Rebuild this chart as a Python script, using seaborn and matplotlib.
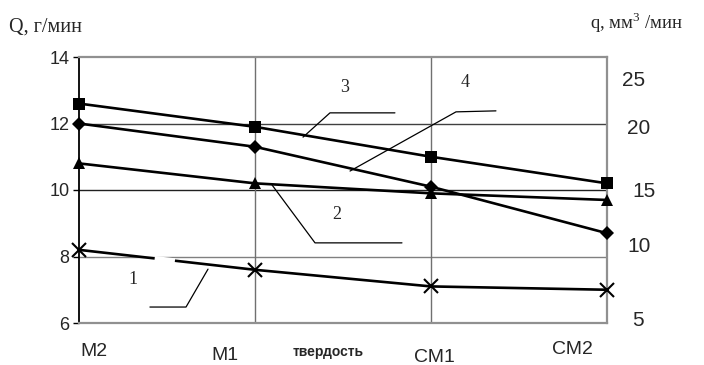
import matplotlib
matplotlib.use("Agg")
import matplotlib.pyplot as plt
import seaborn as sns
import pandas as pd

categories = ["M2", "M1", "СМ1", "СМ2"]
s1 = [8.2, 7.6, 7.1, 7.0]
s2 = [10.8, 10.2, 9.9, 9.7]
s3 = [12.6, 11.9, 11.0, 10.2]
s4 = [12.0, 11.3, 10.1, 8.7]
left_ticks = [6, 8, 10, 12, 14]
right_labels = ["25", "20", "15", "10", "5"]

sns.set_theme(style="white")
plt.rcParams['font.family'] = ['Liberation Sans', 'DejaVu Sans']
plt.rcParams['mathtext.fontset'] = 'custom'
plt.rcParams['mathtext.rm'] = 'Liberation Serif'

W, H = 704, 365
fig = plt.figure(figsize=(7.04, 3.65), dpi=100)
ax = fig.add_axes([79/W, 1-323/H, 528/W, 266/H])

x = list(range(len(categories)))
series = [(s1, "x", 10, 1.5), (s2, "^", 8.5, 0), (s3, "s", 8.5, 0), (s4, "D", 7, 0)]
for vals, m, ms, mew in series:
    df = pd.DataFrame({"x": x, "y": vals})
    sns.lineplot(data=df, x="x", y="y", ax=ax, color="black", lw=1.9,
                 marker=m, markersize=ms, markeredgewidth=mew,
                 markerfacecolor="black", markeredgecolor="black", clip_on=False, zorder=5)

# small white gap in curve 1 (as in the reference)
gx0, gx1 = 0.43, 0.545
ax.plot([gx0, gx1], [s1[0] + (s1[1]-s1[0])*gx0, s1[0] + (s1[1]-s1[0])*gx1],
        color="white", lw=3.5, zorder=6, solid_capstyle="butt")

ax.set_xlim(0, 3)
ax.set_ylim(6, 14)
ax.set_yticks(left_ticks)
ax.set_yticklabels([str(t) for t in left_ticks], fontsize=13)
ax.set_xticks([])
ax.set_xlabel("")
ax.set_ylabel("")
ax.tick_params(axis="y", direction="out", length=4, width=1, color="black", pad=3, left=True)

for yv, c in [(8, "#808080"), (10, "#202020"), (12, "#404040")]:
    ax.axhline(yv, color=c, lw=1, zorder=1)
for xv in [1, 2]:
    ax.axvline(xv, color="#707070", lw=1, zorder=1)
for side in ["top", "bottom", "right"]:
    ax.spines[side].set_color("#909090")
    ax.spines[side].set_linewidth(1.6)
ax.spines["left"].set_color("black")
ax.spines["left"].set_linewidth(1.3)

# right-hand q scale labels
right_pos = [(622, 81), (627, 128), (632, 192), (627, 247), (632, 320)]
for lab, (px, py) in zip(right_labels, right_pos):
    fig.text(px/W, 1-py/H, lab, fontsize=15, ha="left", va="center")

# category labels
cat_pos = [(94, 352), (225, 356), (434, 357), (572, 349)]
for lab, (px, py) in zip(categories, cat_pos):
    fig.text(px/W, 1-py/H, lab, fontsize=14, ha="center", va="center")
fig.text(328/W, 1-352/H, "твердость", fontsize=10, fontweight="bold", ha="center", va="center")

fig.text(9/W, 1-27/H, "Q, г/мин", fontsize=14.5, family=["Liberation Serif"], ha="left", va="center")
fig.text(590/W, 1-23/H, "q, мм$^{3}$ /мин", fontsize=13.5, family=["Liberation Serif"], ha="left", va="center")

# leader lines and series numbers
leaders = [
    ("1", [(0.733, 7.62), (0.608, 6.48), (0.403, 6.48)], (0.307, 7.32)),
    ("2", [(1.097, 10.15), (1.341, 8.41), (1.835, 8.41)], (1.466, 9.25)),
    ("3", [(1.273, 11.59), (1.426, 12.32), (1.795, 12.32)], (1.511, 13.07)),
    ("4", [(1.540, 10.57), (2.142, 12.35), (2.369, 12.38)], (2.193, 13.22)),
]
for lab, pts, tpos in leaders:
    xs = [p[0] for p in pts]
    ys = [p[1] for p in pts]
    ax.plot(xs, ys, color="black", lw=0.9, zorder=4)
    ax.text(tpos[0], tpos[1], lab, fontsize=13, family=["Liberation Serif"], ha="center", va="center")

fig.savefig("out.png", dpi=100)
